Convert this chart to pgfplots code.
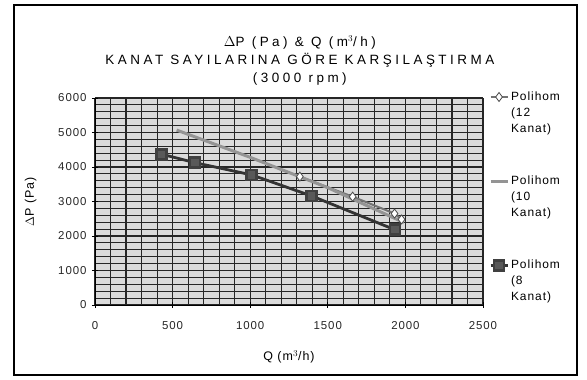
\documentclass[border=0pt]{standalone}
\usepackage{pgfplots}
\pgfplotsset{compat=1.18}
\usepackage{fontspec}
\setmainfont{Liberation Sans}[LetterSpace=8]
\newfontfamily\titlefont{Liberation Sans}[LetterSpace=26]
\begin{document}
\begin{tikzpicture}
\begin{axis}[
  name=ax,
  at={(0,0)}, anchor=south west,
  scale only axis, width=388bp, height=207bp,
  xmin=0, xmax=2500, ymin=0, ymax=6000,
  xtick={0,500,...,2500}, ytick={0,1000,...,6000},
  minor xtick={100,200,300,400,600,700,800,900,1100,1200,1300,1400,1600,1700,1800,1900,2100,2200,2300,2400},
  minor ytick={200,400,600,800,1200,1400,1600,1800,2200,2400,2600,2800,3200,3400,3600,3800,4200,4400,4600,4800,5200,5400,5600,5800},
  grid=both,
  major grid style={black!85, line width=1.1bp},
  minor grid style={black!85, line width=1.1bp},
  axis background/.style={fill=gray!28},
  axis line style={black, line width=0.8bp},
  axis x line*=bottom, axis y line*=left,
  tick align=center, major tick length=6bp, minor tick length=0pt,
  tick style={black, line width=0.8bp},
  /pgf/number format/assume math mode=true,
  /pgf/number format/set thousands separator={},
  ticklabel style={font=\fontsize{11.5}{13}\selectfont, text=black!85},
  xticklabel style={yshift=-10bp},
  yticklabel style={xshift=-2bp},
  xlabel={Q (m$^3$/h)}, ylabel={$\Delta$P (Pa)},
  label style={font=\fontsize{12.5}{14}\selectfont},
  xlabel style={yshift=-14bp},
  ylabel style={yshift=15bp},
  title={$\Delta$P (Pa) \& Q (m$^3$/h)\\KANAT SAYILARINA GÖRE KARŞILAŞTIRMA\\(3000 rpm)},
  title style={align=center, at={(0.528,1)}, anchor=south, yshift=3bp, font=\titlefont\fontsize{13.5}{18}\selectfont},
  legend style={at={(1.015,1.04)}, anchor=north west, draw=none, fill=none,
    font=\fontsize{12}{16}\selectfont, row sep=70bp, inner sep=0pt},
  legend cell align=left,
]
\addplot[color=black!55, line width=2bp, mark=diamond*, mark size=4.5bp,
  mark options={fill=white, draw=black!70, line width=0.8bp}]
  coordinates {(1320,3720) (1660,3140) (1930,2650) (1975,2480)};
\addlegendentry{\parbox[t]{60bp}{Polihom\\(12\\Kanat)}}
\addplot[color=black!42, line width=3bp]
  coordinates {(526,5070) (1000,4280) (1500,3400) (1990,2390)};
\addlegendentry{\parbox[t]{60bp}{Polihom\\(10\\Kanat)}}
\addplot[color=black!80, line width=2.8bp, mark=square*, mark size=5bp,
  mark options={fill=black!65, draw=black!75}]
  coordinates {(430,4370) (644,4125) (1010,3770) (1396,3160) (1933,2180)};
\addlegendentry{\parbox[t]{60bp}{Polihom\\(8\\Kanat)}}
\end{axis}
\draw[line width=1.2bp] ([shift={(-81bp,-70bp)}]ax.south west) rectangle ([shift={(94bp,93bp)}]ax.north east);
\path ([shift={(-95bp,-75bp)}]ax.south west) rectangle ([shift={(104bp,98bp)}]ax.north east);
\end{tikzpicture}
\end{document}
